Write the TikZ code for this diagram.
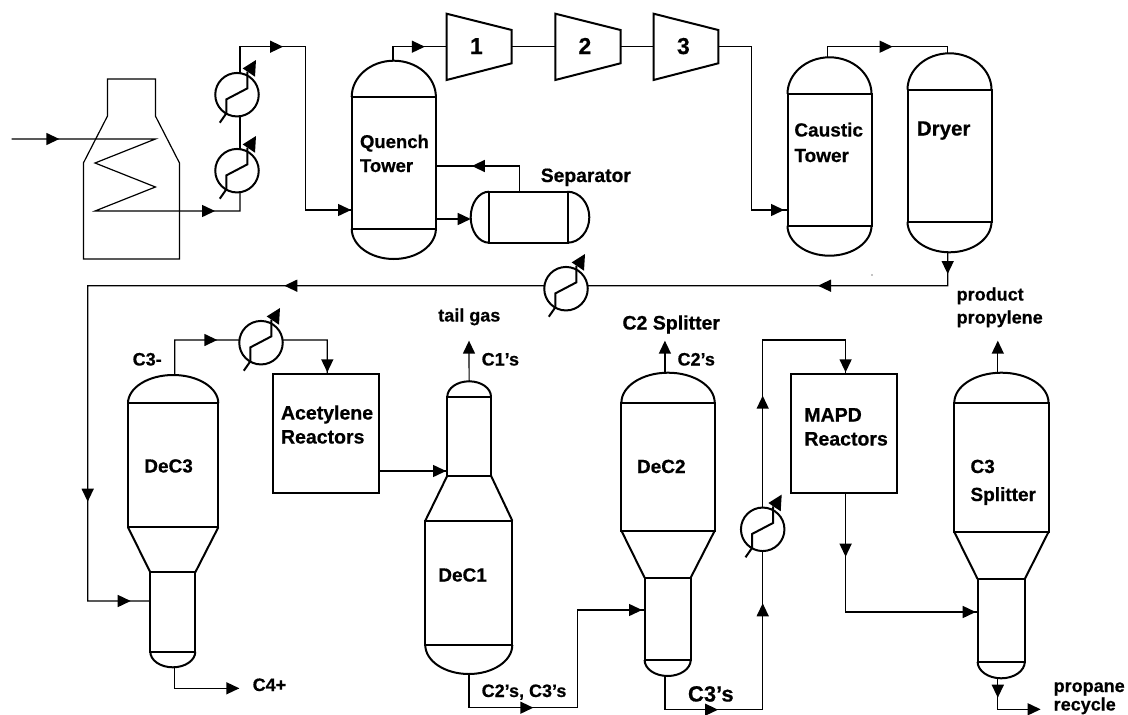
\documentclass[tikz,border=0pt]{standalone}
\usepackage{fontspec}
\setmainfont[BoldFeatures={FakeBold=0.6}]{Liberation Sans}
\tikzset{
  conn/.style={line width=1.2pt,draw=black,line join=miter},
  vline/.style={line width=2pt,draw=black},
  vbody/.style={rectangle,draw=black,line width=2pt,inner sep=0pt,outer sep=0pt,fill=none},
  hxc/.style={circle,draw=black,line width=2pt,inner sep=0pt,outer sep=0pt,minimum size=43.5pt,fill=white},
  lblstyle/.style={anchor=base west,inner sep=0pt,outer sep=0pt,font=\bfseries,align=left},
}
\newcommand\bodyn[5]{% name x1 y1 x2 y2
  \pgfmathsetmacro\bw{#4-#2}\pgfmathsetmacro\bh{#5-#3}
  \pgfmathsetmacro\bx{(#2+#4)/2}\pgfmathsetmacro\by{(#3+#5)/2}
  \node[vbody,minimum width=\bw pt,minimum height=\bh pt] (#1) at (\bx,\by) {};}
\newcommand\captop[3]{\draw[vline] (#1.north west) arc[start angle=180,end angle=0,x radius=#2pt,y radius=#3pt];}
\newcommand\capbot[3]{\draw[vline] (#1.south west) arc[start angle=180,end angle=360,x radius=#2pt,y radius=#3pt];}
\newcommand\tipat[3]{\fill[black,shift={(#1,#2)},rotate=#3] (0,0) -- (-13,-6.2) -- (-13,6.2) -- cycle;}
\newcommand\hxn[3]{%
  \node[hxc] (#1) at (#2,#3) {};
  \begin{scope}[shift={(#1.center)}]
    \draw[vline,line join=miter] (-17.2,28) -- (-10.7,18.7) -- (-10.7,4.7) -- (10.3,-6.3) -- (10.3,-23);
    \fill[black] (19,-34.7) -- (5.7,-26.3) -- (18,-18) -- cycle;
  \end{scope}}
\newcommand\lbl[5]{\node[lblstyle] (#1) at (#2,#3) {\fontsize{#5}{#5}\selectfont #4};}
\newcommand\compr[4]{% name xl xr ; label
  \coordinate (#1l) at (#2,46.7); \coordinate (#1r) at (#3,46.7);
  \draw[vline,line join=miter] (#2,13.7) -- (#3,30) -- (#3,63.3) -- (#2,80) -- cycle;}
\begin{document}
\begin{tikzpicture}[x=1pt,y=-1pt]
\useasboundingbox (0,0) rectangle (1128,715);
% furnace
\draw[conn] (107.5,116) -- (107.5,79) -- (155.4,79) -- (155.4,116) -- (179.5,163) -- (179.5,259) -- (83.4,259) -- (83.4,163) -- cycle;
% exchangers
\hxn{hxa}{237}{94.7}
\hxn{hxb}{237}{170.7}
\hxn{hxc}{566}{288.7}
\hxn{hxd}{261}{342.7}
\hxn{hxe}{762.7}{529.3}
% quench
\bodyn{qt}{351.7}{97}{436}{228.7}
\captop{qt}{42.1}{36.3}
\capbot{qt}{42.1}{30.3}
% separator
\bodyn{sep}{489}{191.7}{567.5}{242.7}
\draw[vline] (sep.north west) arc[start angle=90,end angle=270,x radius=18.3pt,y radius=25.5pt];
\draw[vline] (sep.north east) arc[start angle=90,end angle=-90,x radius=21.8pt,y radius=25.5pt];
% compressors
\compr{ca}{446.6}{511.7}{1}
\compr{cb}{555.3}{620.5}{2}
\compr{cc}{653.5}{718.3}{3}
% caustic, dryer
\bodyn{ct}{787.5}{94}{871.6}{225.7}
\captop{ct}{42}{36.7}
\capbot{ct}{42}{30}
\bodyn{dr}{907.5}{89.7}{991.5}{221.7}
\captop{dr}{42}{36.4}
\capbot{dr}{42}{30.6}
% DeC3
\bodyn{dcu}{128}{403.3}{218.3}{527.3}
\bodyn{dcl}{150.3}{572.3}{195.3}{651.7}
\captop{dcu}{45.15}{28.3}
\capbot{dcl}{22.5}{15.6}
\draw[vline] (dcu.south west) -- (dcl.north west) (dcu.south east) -- (dcl.north east);
% Acetylene
\bodyn{acr}{272.7}{374}{379}{492.7}
% DeC1
\bodyn{dau}{447.3}{396.7}{491}{475.7}
\bodyn{dal}{425.3}{520.7}{512.3}{645}
\captop{dau}{21.85}{15.4}
\capbot{dal}{43.5}{29}
\draw[vline] (dau.south west) -- (dal.north west) (dau.south east) -- (dal.north east);
% DeC2
\bodyn{dbu}{621.4}{402.7}{714.7}{530.7}
\bodyn{dbl}{644.6}{577.7}{690.7}{660}
\captop{dbu}{46.65}{30}
\capbot{dbl}{23.05}{16}
\draw[vline] (dbu.south west) -- (dbl.north west) (dbu.south east) -- (dbl.north east);
% MAPD
\bodyn{mapd}{791.2}{374}{897}{492.7}
% C3 splitter
\bodyn{csu}{954.3}{402.7}{1048.5}{532}
\bodyn{csl}{977.6}{579}{1024.8}{661.7}
\captop{csu}{47.1}{30}
\capbot{csl}{23.6}{16.6}
\draw[vline] (csu.south west) -- (csl.north west) (csu.south east) -- (csl.north east);
% free ends
\coordinate (inlet) at (11.5,139);
\coordinate (C4end) at (239.3,688.3);
\coordinate (tailend) at (469,345);
\coordinate (c2end) at (664.9,345);
\coordinate (propyend) at (997.8,345);
\coordinate (recend) at (1040,709.3);
% connectors
\draw[conn] (inlet) -- (155.4,139) -- (95,163) -- (155.4,187) -- (95,211) -- (hxb.-82 |- 0,211) -- (hxb.-82);
\draw[conn] (hxb.82) -- (hxa.-82);
\draw[conn] (hxa.82) -- (hxa.82 |- 0,46.7) -- (305.4,46.7) -- (305.4,210) -- (qt.west |- 0,210);
\draw[conn] (393,60.7) -- (393,46.7) -- (cal);
\draw[conn] (car) -- (cbl);
\draw[conn] (cbr) -- (ccl);
\draw[conn] (ccr) -- (751.7,46.7) -- (751.7,210) -- (ct.west |- 0,210);
\draw[conn] (827.8,57.3) -- (827.8,46.7) -- (947.7,46.7) -- (947.7,53.3);
\draw[conn] (947.7,252.3) -- (947.7,285.7) -- (hxc.8);
\draw[conn] (hxc.172) -- (87.7,285.7) -- (87.7,601) -- (dcl.west |- 0,601);
\draw[conn] (174.7,375) -- (174.7,340) -- (hxd.173);
\draw[conn] (hxd.7) -- (327.3,340) -- (327.3,374);
\draw[conn] (174.7,667.3) -- (174.7,688.3) -- (C4end);
\draw[conn] (acr.east |- 0,471) -- (dau.west |- 0,471);
\draw[conn] (dau.north) ++(0,-15.4) -- (tailend);
\draw[conn] (469,674) -- (469,707.7) -- (577.5,707.7) -- (577.5,610) -- (dbl.west |- 0,610);
\draw[conn] (664.9,372.7) -- (c2end);
\draw[conn] (664.9,676) -- (664.9,709.7) -- (hxe.south |- 0,709.7) -- (hxe.south);
\draw[conn] (hxe.north) -- (hxe.north |- 0,340) -- (845.6,340) -- (845.6,374);
\draw[conn] (845.6,492.7) -- (845.6,612) -- (csl.west |- 0,612);
\draw[conn] (997.8,372.7) -- (propyend);
\draw[conn] (997.8,678.3) -- (997.8,709.3) -- (recend);
\draw[conn] (qt.east |- 0,166) -- (519.7,166) -- (519.7,191.7);
\draw[conn] (qt.east |- 0,219) -- (465,219);
% arrow tips
\tipat{59.3}{139}{0}
\tipat{215}{211}{0}
\tipat{283}{46.7}{0}
\tipat{351}{210}{0}
\tipat{424.8}{46.7}{0}
\tipat{471.9}{166}{180}
\tipat{470.7}{219}{0}
\tipat{784}{210}{0}
\tipat{892.6}{46.7}{0}
\tipat{947.7}{274}{270}
\tipat{818}{285.7}{180}
\tipat{284.3}{285.7}{180}
\tipat{87.7}{501.7}{270}
\tipat{130.7}{601}{0}
\tipat{217.3}{340}{0}
\tipat{327.3}{372.3}{270}
\tipat{239.3}{688.3}{0}
\tipat{446}{471}{0}
\tipat{469}{340.7}{90}
\tipat{533.3}{707.7}{0}
\tipat{642}{610}{0}
\tipat{664.9}{340.7}{90}
\tipat{718}{709.7}{0}
\tipat{762.7}{603.3}{90}
\tipat{762.7}{395.7}{90}
\tipat{845.6}{372.3}{270}
\tipat{845.6}{556.7}{270}
\tipat{975.7}{612}{0}
\tipat{997.8}{340.7}{90}
\tipat{997.8}{697.7}{270}
\tipat{1040.6}{709.3}{0}
\fill (872,275) circle (0.6);
% labels
\lbl{tone}{470}{54}{1}{23}
\lbl{ttwo}{578.5}{54}{2}{23}
\lbl{tthree}{677}{54}{3}{23}
\lbl{tq}{360}{148}{Quench}{18.5}
\lbl{tqb}{360}{172}{Tower}{18.5}
\lbl{tsep}{540.8}{182}{Separator}{19.3}
\lbl{tc}{794.4}{136.5}{Caustic}{19}
\lbl{tcb}{794.4}{162}{Tower}{19}
\lbl{tdr}{916.9}{135.5}{Dryer}{20.5}
\lbl{tprod}{956.7}{300.5}{product}{18}
\lbl{tprop}{956.7}{323.5}{propylene}{18}
\lbl{ttail}{438.3}{321.5}{tail gas}{18}
\lbl{tc2s}{622.5}{329.5}{C2 Splitter}{19.5}
\lbl{tcm}{132.7}{365.5}{C3-}{18}
\lbl{tc1}{481.7}{365.5}{C1’s}{18}
\lbl{tc2}{677.6}{365.5}{C2’s}{18}
\lbl{tac}{281}{419.5}{Acetylene}{19.5}
\lbl{tacb}{281}{443.5}{Reactors}{19.5}
\lbl{tm}{804.4}{421.5}{MAPD}{19.5}
\lbl{tmb}{804.4}{445.5}{Reactors}{19.5}
\lbl{td3}{144.3}{472.5}{DeC3}{19}
\lbl{td2}{637}{473}{DeC2}{19}
\lbl{ts3}{970.5}{473}{C3}{19}
\lbl{ts3b}{970.5}{501}{Splitter}{19}
\lbl{td1}{438.3}{581.5}{DeC1}{19}
\lbl{tc4}{252.7}{691}{C4+}{18}
\lbl{tcc}{481.7}{697}{C2’s, C3’s}{18}
\lbl{tc3}{688}{701.5}{C3’s}{22}
\lbl{tpa}{1053.7}{692}{propane}{18}
\lbl{tpb}{1053.7}{710.5}{recycle}{18}
\end{tikzpicture}
\end{document}
